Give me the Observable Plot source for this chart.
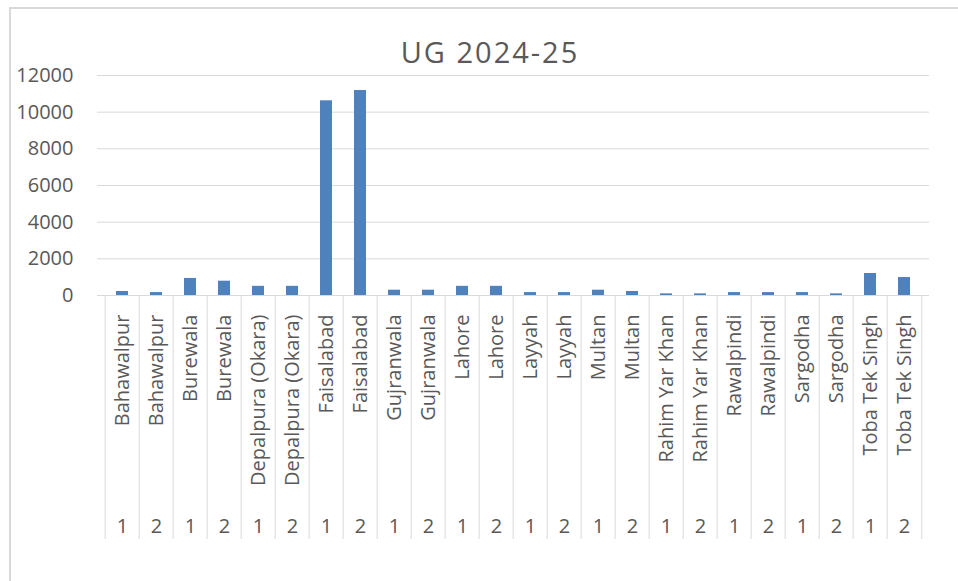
<!DOCTYPE html>
<html>
<head>
<meta charset="utf-8">
<script src="https://cdn.jsdelivr.net/npm/d3@7"></script>
<script src="https://cdn.jsdelivr.net/npm/@observablehq/plot@0.6"></script>
<style>
  html, body { margin: 0; padding: 0; background: #fff; }
  #wrap { position: relative; width: 958px; height: 581px; overflow: hidden; }
  #border { position: absolute; left: 9px; top: 7px; width: 2000px; height: 2000px;
            border-left: 2px solid #d9d9d9; border-top: 2px solid #d9d9d9; box-sizing: border-box; }
  #chart { position: absolute; left: 0; top: 0; }
</style>
</head>
<body>
<div id="wrap"><div id="border"></div><div id="chart"></div></div>
<script>
const cities = ["Bahawalpur","Bahawalpur","Burewala","Burewala","Depalpura (Okara)","Depalpura (Okara)",
  "Faisalabad","Faisalabad","Gujranwala","Gujranwala","Lahore","Lahore","Layyah","Layyah",
  "Multan","Multan","Rahim Yar Khan","Rahim Yar Khan","Rawalpindi","Rawalpindi",
  "Sargodha","Sargodha","Toba Tek Singh","Toba Tek Singh"];
const shifts = ["1","2","1","2","1","2","1","2","1","2","1","2","1","2","1","2","1","2","1","2","1","2","1","2"];
const values = [220,160,930,780,500,500,10620,11180,290,290,500,500,160,160,290,220,90,90,160,160,160,90,1200,980];
const yTicks = [0,2000,4000,6000,8000,10000,12000];
const title = "UG 2024-25";

const data = values.map((v, i) => ({key: String(i), city: cities[i], shift: shifts[i], value: v}));
const keys = data.map(d => d.key);

const W = 958, H = 581, ML = 97, MR = 29, MT = 75, MB = 286;
const step = (W - ML - MR) / keys.length;
const yBottom = -(539 - (H - MB)) / (H - MB - MT) * 12000; // bottom of category dividers

const textColor = "#595959";
const gridColor = "#d9d9d9";

const chart = Plot.plot({
  width: W, height: H,
  marginLeft: ML, marginRight: MR, marginTop: MT, marginBottom: MB,
  style: {fontFamily: "'Open Sans', sans-serif", fontSize: "20px", color: textColor, background: "transparent"},
  x: {domain: keys, paddingInner: 0.66, paddingOuter: 0.33, axis: null, label: null},
  y: {domain: [0, 12000], axis: null, label: null},
  marks: [
    Plot.gridY(yTicks, {stroke: gridColor, strokeOpacity: 1, strokeWidth: 1}),
    Plot.ruleX(keys, {x: d => d, y1: 0, y2: yBottom, dx: -step / 2, stroke: gridColor, strokeWidth: 1, clip: false}),
    Plot.ruleX([keys[keys.length - 1]], {x: d => d, y1: 0, y2: yBottom, dx: step / 2, stroke: gridColor, strokeWidth: 1, clip: false}),
    Plot.barY(data, {x: "key", y: "value", fill: "#4f81bd"}),
    Plot.axisY({ticks: yTicks, tickFormat: d => String(d), tickSize: 0, tickPadding: 24, fontSize: 20, fill: textColor, label: null}),
    Plot.axisX({tickFormat: k => cities[+k], tickRotate: -90, tickSize: 0, tickPadding: 19, fontSize: 20, fill: textColor, label: null}),
    Plot.axisX({tickFormat: k => shifts[+k], tickSize: 0, tickPadding: 223, fontSize: 20, fill: textColor, label: null}),
    Plot.text([title], {frameAnchor: "top", dx: 489.5 - (ML + (W - ML - MR) / 2), dy: -22, lineAnchor: "middle",
      fontSize: 29, fill: textColor})
  ]
});
d3.select(chart).selectAll("text").filter(function () { return this.textContent === title; })
  .style("letter-spacing", "2px");
document.getElementById("chart").appendChild(chart);
</script>
</body>
</html>
